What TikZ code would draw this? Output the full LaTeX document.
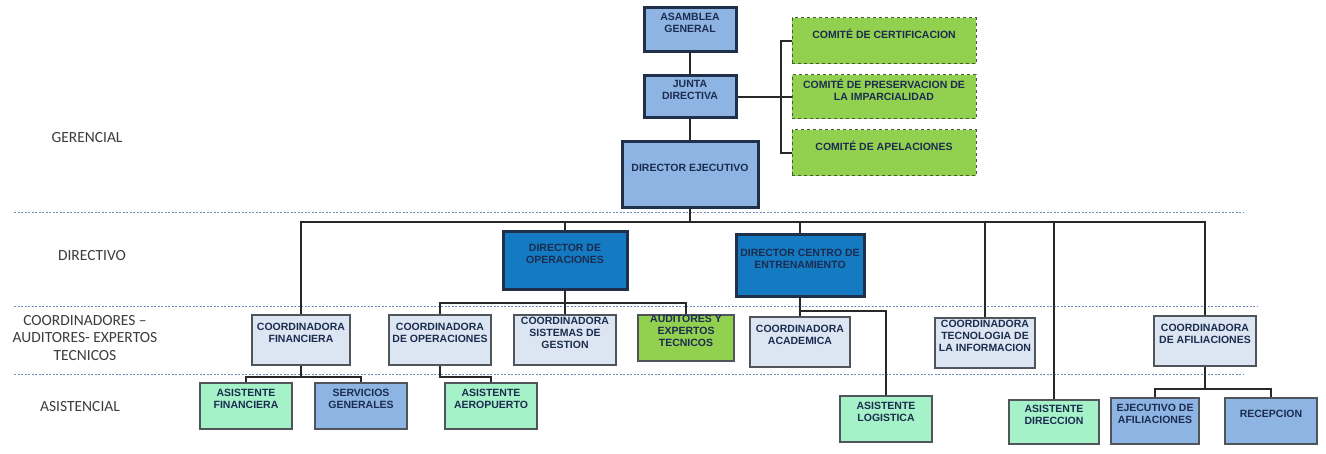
\documentclass[tikz,border=0pt]{standalone}
\usepackage{fontspec}
\setmainfont{Liberation Sans}
\newfontfamily\nivelfont{Carlito}
\usetikzlibrary{calc}
\definecolor{textoazul}{RGB}{28,44,80}
\definecolor{azulclaro}{RGB}{141,180,226}
\definecolor{azulfuerte}{RGB}{20,122,194}
\definecolor{bordeazul}{RGB}{32,48,74}
\definecolor{verde}{RGB}{146,208,80}
\definecolor{bordeverde}{RGB}{70,90,50}
\definecolor{celeste}{RGB}{220,230,242}
\definecolor{menta}{RGB}{165,242,200}
\definecolor{gris}{RGB}{80,85,92}
\definecolor{grisosc}{RGB}{60,60,60}
\definecolor{linea}{RGB}{40,40,40}
\definecolor{azuldiv}{RGB}{110,140,190}
\tikzset{cargo/.style={rectangle,inner sep=0pt,text=textoazul,
font=\fontsize{10.5}{12}\selectfont\bfseries},
gerbox/.style={cargo,fill=azulclaro,draw=bordeazul,line width=3pt},
dirbox/.style={cargo,fill=azulfuerte,draw=bordeazul,line width=3pt},
comite/.style={cargo,fill=verde,draw=bordeverde,dashed,line width=1pt},
coord/.style={cargo,fill=celeste,draw=gris,line width=2pt},
auditor/.style={coord,fill=verde},
asist/.style={coord,fill=menta},
serv/.style={coord,fill=azulclaro},
nivel/.style={align=center,text=grisosc,
font=\nivelfont\fontsize{15.5}{17.5}\selectfont},
divisor/.style={draw=azuldiv,dash pattern=on 2pt off 1.5pt,line width=0.8pt},
-/.style={color=linea,line width=2pt}}
\newcommand{\subir}[1]{\raisebox{5.5pt}[\height][\depth]{\begin{tabular}{@{}c@{}}#1\end{tabular}}}
\newcommand{\caja}[6]{
\node (#1) [#2,minimum width=#4,minimum height=#5] at (#3) {\subir{#6}};
}
\begin{document}
\begin{tikzpicture}[x=1pt,y=-1pt]
  \useasboundingbox (0,0) rectangle (1326,454);
  \draw [divisor] (14,212) -- (1243,212);
  \draw [divisor] (14,306) -- (1258,306);
  \draw [divisor] (14,374) -- (1243,374);

  \node (gerencial) [nivel] at (87,138) {GERENCIAL};
  \node (directivo) [nivel] at (92,256) {DIRECTIVO};
  \node (coordinadores) [nivel] at (85,338) {COORDINADORES –\\AUDITORES- EXPERTOS\\TECNICOS};
  \node (asistencial) [nivel] at (80,407) {ASISTENCIAL};

  \caja{asamblea}{gerbox}{690,30}{92}{44}{ASAMBLEA\\GENERAL}
  \caja{junta}{gerbox}{690,97}{92}{42}{JUNTA\\DIRECTIVA}
  \caja{ejecutivo}{gerbox}{690,175}{136}{66}{DIRECTOR EJECUTIVO}
  \caja{certif}{comite}{884,41}{184}{46}{COMITÉ DE CERTIFICACION}
  \caja{imparc}{comite}{884,97}{184}{44}{COMITÉ DE PRESERVACION DE\\LA IMPARCIALIDAD}
  \caja{apelac}{comite}{884,153}{184}{46}{COMITÉ DE APELACIONES}
  \caja{dirop}{dirbox}{565,261}{124}{58}{DIRECTOR DE\\OPERACIONES}
  \caja{dirce}{dirbox}{800,266}{128}{62}{DIRECTOR CENTRO DE\\ENTRENAMIENTO}
  \caja{cfin}{coord}{301,340}{98}{50}{COORDINADORA\\FINANCIERA}
  \caja{cop}{coord}{440,340}{102}{50}{COORDINADORA\\DE OPERACIONES}
  \caja{csg}{coord}{565,340}{102}{50}{COORDINADORA\\SISTEMAS DE\\GESTION}
  \caja{aud}{auditor}{686,338}{96}{46}{AUDITORES Y\\EXPERTOS\\TECNICOS}
  \caja{cac}{coord}{800,342}{100}{50}{COORDINADORA\\ACADEMICA}
  \caja{cti}{coord}{985,343}{100}{50}{COORDINADORA\\TECNOLOGIA DE\\LA INFORMACION}
  \caja{caf}{coord}{1205,341}{102}{50}{COORDINADORA\\DE AFILIACIONES}
  \caja{afin}{asist}{246,406}{92}{46}{ASISTENTE\\FINANCIERA}
  \caja{sgen}{serv}{361,406}{92}{46}{SERVICIOS\\GENERALES}
  \caja{aaer}{asist}{491,406}{92}{46}{ASISTENTE\\AEROPUERTO}
  \caja{alog}{asist}{886,419}{92}{46}{ASISTENTE\\LOGISTICA}
  \caja{adir}{asist}{1054,422}{90}{44}{ASISTENTE\\DIRECCION}
  \caja{ejaf}{serv}{1155,421}{88}{46}{EJECUTIVO DE\\AFILIACIONES}
  \caja{recep}{serv}{1271,421}{92}{46}{RECEPCION}

  \coordinate (corchete) at (781,97);
  \coordinate (barra) at (690,222);
  \coordinate (barop) at (565,303);
  \coordinate (barce) at (800,311);
  \coordinate (barfin) at (301,377);
  \coordinate (baraer) at (440,377);
  \coordinate (baraf) at (1205,389);

  \draw [-] (asamblea) -- (junta);
  \draw [-] (junta) -- (ejecutivo);
  \draw [-] (junta.east) -- (imparc.west);
  \draw [-] (corchete) |- (certif.west);
  \draw [-] (corchete) |- (apelac.west);
  \draw [-] (ejecutivo) -- (barra);
  \foreach \n in {cfin,dirop,dirce,cti,adir,caf}
    \draw [-] (barra) -| (\n.north);
  \draw [-] (dirop) -- (barop);
  \foreach \n in {cop,csg,aud}
    \draw [-] (barop) -| (\n.north);
  \draw [-] (dirce) -- (cac);
  \draw [-] (barce) -| (alog.north);
  \draw [-] (cfin) -- (barfin);
  \foreach \n in {afin,sgen}
    \draw [-] (barfin) -| (\n.north);
  \draw [-] (cop) -- (baraer) -| (aaer.north);
  \draw [-] (caf) -- (baraf);
  \foreach \n in {ejaf,recep}
    \draw [-] (baraf) -| (\n.north);
\end{tikzpicture}
\end{document}
